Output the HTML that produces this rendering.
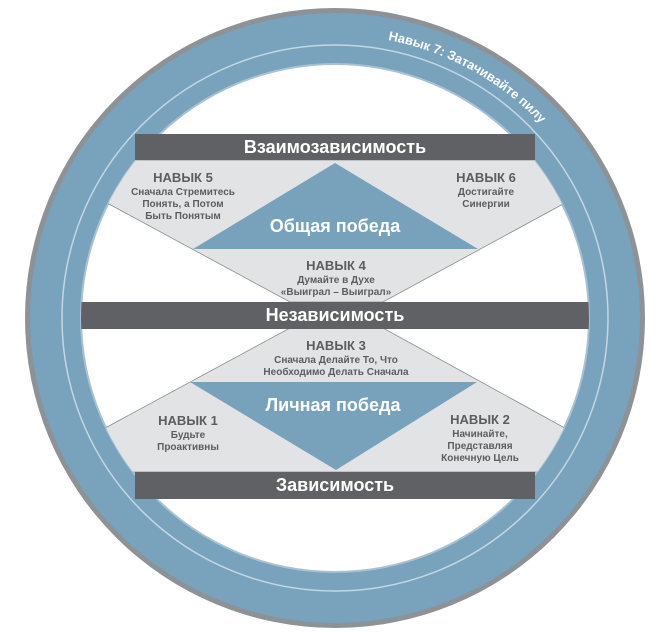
<!DOCTYPE html>
<html><head><meta charset="utf-8"><style>
html,body{margin:0;padding:0;background:#fff;}
svg{display:block}
text{font-family:"Liberation Sans Narrow","Liberation Sans",sans-serif;font-weight:bold;}
</style></head><body>
<svg width="670" height="633" viewBox="0 0 670 633" xmlns="http://www.w3.org/2000/svg">
<defs>
<clipPath id="inner"><circle cx="335" cy="318" r="254"/></clipPath>
<path id="arc" d="M 335 318 m -283 0 a 283 283 0 1 1 566 0"/>
</defs>
<circle cx="335" cy="318" r="310" fill="#8c9296"/>
<circle cx="335" cy="318" r="305" fill="#79a2bc"/>
<circle cx="335" cy="318" r="273" fill="none" stroke="#c3d7e3" stroke-width="1.5"/>
<circle cx="335" cy="318" r="255" fill="#a8c2d3"/>
<circle cx="335" cy="318" r="253" fill="#fff"/>
<text font-size="13" fill="#fff"><textPath href="#arc" startOffset="56%">Навык 7: Затачивайте пилу</textPath></text>
<g clip-path="url(#inner)">
<polygon points="60,160 610,160 610,178 565,203 383,302 290,302 107,203 60,178" fill="#e2e3e4" stroke="#8a8c8e" stroke-width="0.8"/>
<polygon points="290,328 383,328 563,427 610,452 610,472 60,472 60,452 107,427" fill="#e2e3e4" stroke="#8a8c8e" stroke-width="0.8"/>
<rect x="60" y="302" width="560" height="27" fill="#5f6164"/>
</g>
<rect x="135" y="134" width="400" height="26" fill="#5f6164"/>
<rect x="135" y="472" width="400" height="27" fill="#5f6164"/>
<polygon points="335,163 478,249 193,249" fill="#78a1bb"/>
<polygon points="190,382 477,382 336,470" fill="#78a1bb"/>
<g fill="#fff" text-anchor="middle">
<text x="335" y="153" font-size="18">Взаимозависимость</text>
<text x="335" y="321" font-size="18">Независимость</text>
<text x="335" y="491" font-size="18">Зависимость</text>
<text x="335" y="232" font-size="18">Общая победа</text>
<text x="333" y="411" font-size="18">Личная победа</text>
</g>
<g fill="#5b5d60" text-anchor="middle">
<text x="183" y="182" font-size="13">НАВЫК 5</text>
<text x="183" y="195" font-size="10">Сначала Стремитесь</text>
<text x="183" y="207" font-size="10">Понять, а Потом</text>
<text x="183" y="219" font-size="10">Быть Понятым</text>
<text x="486" y="182" font-size="13">НАВЫК 6</text>
<text x="486" y="195" font-size="10">Достигайте</text>
<text x="486" y="207" font-size="10">Синергии</text>
<text x="336" y="270" font-size="13">НАВЫК 4</text>
<text x="336" y="283" font-size="10">Думайте в Духе</text>
<text x="336" y="295" font-size="10">«Выиграл – Выиграл»</text>
<text x="336" y="350" font-size="13">НАВЫК 3</text>
<text x="336" y="363" font-size="10">Сначала Делайте То, Что</text>
<text x="336" y="375" font-size="10">Необходимо Делать Сначала</text>
<text x="188" y="425" font-size="13">НАВЫК 1</text>
<text x="188" y="438" font-size="10">Будьте</text>
<text x="188" y="450" font-size="10">Проактивны</text>
<text x="480" y="424" font-size="13">НАВЫК 2</text>
<text x="480" y="437" font-size="10">Начинайте,</text>
<text x="480" y="449" font-size="10">Представляя</text>
<text x="480" y="461" font-size="10">Конечную Цель</text>
</g>
</svg>
</body></html>
